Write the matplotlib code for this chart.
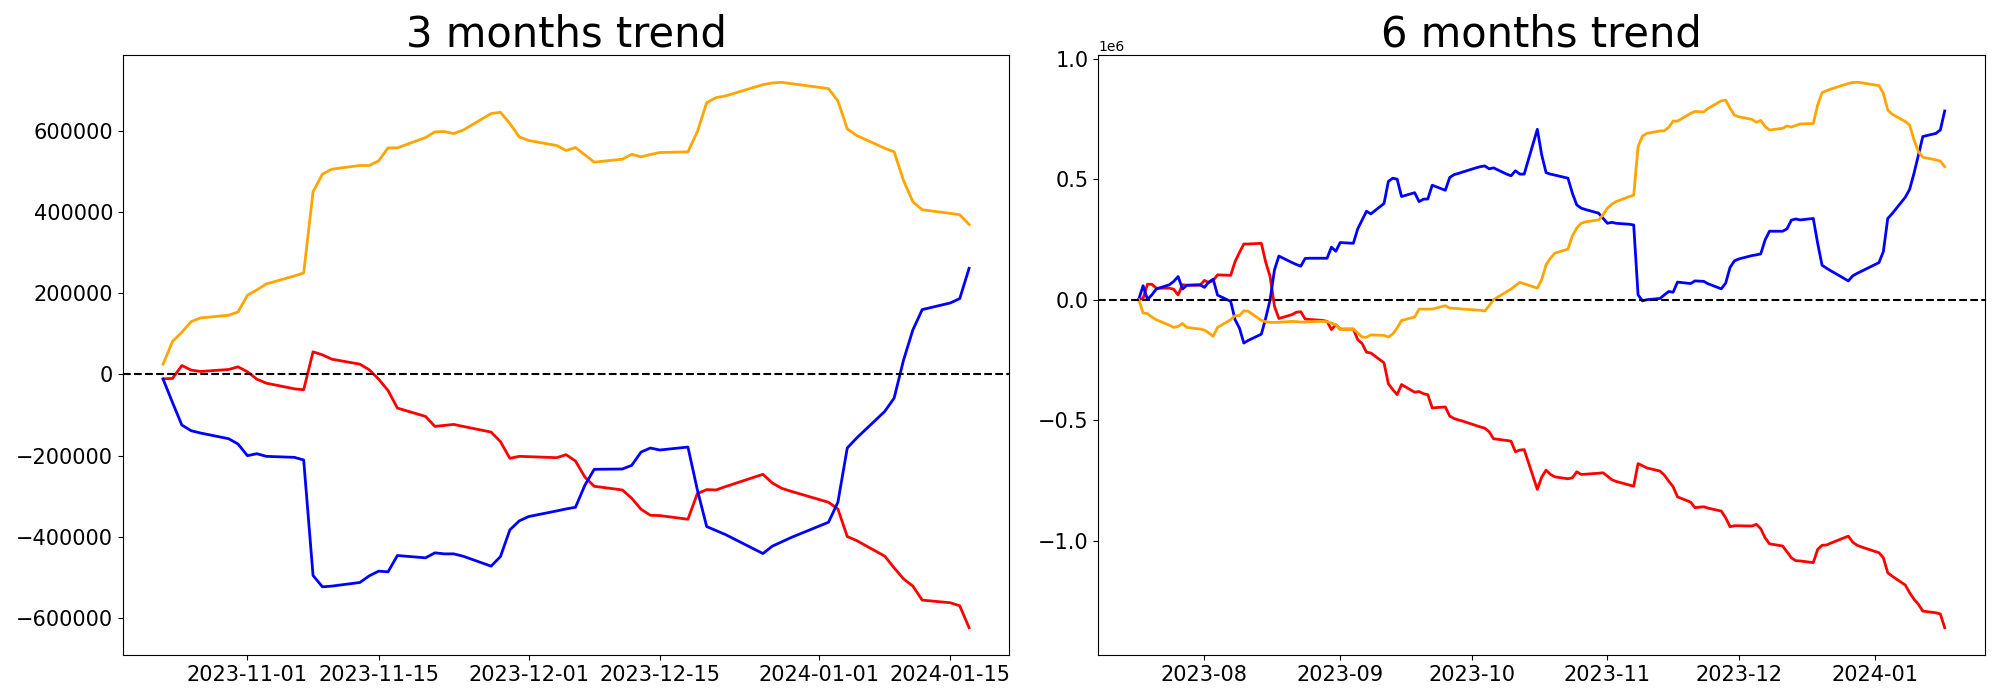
import matplotlib
matplotlib.use('Agg')
import matplotlib.pyplot as plt
import numpy as np
import pandas as pd

# trading days (weekdays, no Christmas / New Year)
holidays = ['2023-12-25', '2024-01-01']
dates_3m = pd.bdate_range('2023-10-23', '2024-01-17').drop(pd.to_datetime(holidays))
dates_6m = pd.bdate_range('2023-07-17', '2024-01-17').drop(pd.to_datetime(holidays))

# 3 months trend
red_3m = [-10700, -9800, 22100, 10700, 7400,
          12300, 18900, 6600, -11500, -21300,
          -35300, -37700, 55800, 48400, 37700,
          25400, 11500, -11500, -39400, -82800,
          -103300, -127900, -125500, -123000, -127900,
          -141900, -165600, -206600, -201700, -202500,
          -205000, -197600, -213200, -252600, -275500,
          -284500, -305000, -332100, -346900, -347700,
          -356700, -293600, -283700, -284500, -276300,
          -246000, -267300, -280400, -287800,
          -314900, -331300, -399300, -409200,
          -447700, -476400, -503500, -521500, -556000,
          -562500, -569900, -624000]
blue_3m = [-11500, -68900, -124600, -138600, -144300,
           -158300, -171400, -200100, -195200, -201700,
           -204200, -210700, -495300, -523200, -521500,
           -512500, -496100, -484600, -486300, -446100,
           -451800, -439500, -442000, -442000, -447700,
           -472300, -448500, -382900, -360800, -350100,
           -336200, -331300, -327200, -273100, -233700,
           -232900, -223900, -191100, -181200, -186100,
           -178800, -283700, -374700, -384600, -394400,
           -441200, -423100, -412500, -401800,
           -364100, -314900, -181200, -156600,
           -91000, -58200, 35000, 109900, 159900,
           176300, 187000, 261600]
orange_3m = [25400, 81200, 104100, 130400, 139400,
             146000, 154200, 195200, 208300, 223000,
             242700, 250100, 450200, 493600, 505900,
             515000, 515000, 526400, 558400, 558400,
             583800, 597800, 598600, 593700, 601900,
             642900, 646200, 618300, 585500, 576500,
             564200, 551900, 559200, 541200, 523200,
             530500, 542800, 536300, 542000, 547000,
             548600, 597800, 669900, 682200, 686300,
             714200, 718300, 720000, 716700,
             704400, 674000, 605200, 588800,
             557500, 548600, 478300, 425600, 405900,
             396900, 393600, 369800]

# 6 months trend (millions)
red_6m = [0.0, 0.006, 0.064, 0.064, 0.048,
          0.048, 0.043, 0.020, 0.062, 0.060,
          0.060, 0.080, 0.071, 0.080, 0.103,
          0.101, 0.158, 0.196, 0.231, 0.231,
          0.234, 0.155, 0.096, -0.028, -0.078,
          -0.062, -0.052, -0.050, -0.080, -0.082,
          -0.086, -0.090, -0.124, -0.104, -0.122,
          -0.122, -0.166, -0.182, -0.218, -0.221,
          -0.262, -0.349, -0.373, -0.394, -0.352,
          -0.384, -0.381, -0.390, -0.394, -0.449,
          -0.445, -0.483, -0.493, -0.499, -0.504,
          -0.522, -0.528, -0.533, -0.548, -0.577,
          -0.584, -0.587, -0.631, -0.624, -0.622,
          -0.787, -0.736, -0.707, -0.725, -0.735,
          -0.743, -0.739, -0.714, -0.725, -0.724,
          -0.720, -0.718, -0.732, -0.747, -0.754,
          -0.769, -0.774, -0.680, -0.689, -0.698,
          -0.711, -0.728, -0.753, -0.776, -0.818,
          -0.840, -0.863, -0.861, -0.859, -0.865,
          -0.877, -0.905, -0.942, -0.938, -0.938,
          -0.939, -0.932, -0.950, -0.988, -1.013,
          -1.022, -1.046, -1.071, -1.083, -1.084,
          -1.091, -1.036, -1.019, -1.018, -1.010,
          -0.981, -1.006, -1.019, -1.026,
          -1.050, -1.071, -1.133, -1.147,
          -1.184, -1.216, -1.243, -1.264, -1.292,
          -1.299, -1.304, -1.361]
blue_6m = [0.001, 0.058, 0.001, 0.020, 0.044,
           0.062, 0.076, 0.096, 0.044, 0.060,
           0.062, 0.051, 0.073, 0.085, 0.019,
           -0.007, -0.083, -0.118, -0.180, -0.169,
           -0.143, -0.076, 0.000, 0.124, 0.181,
           0.154, 0.146, 0.139, 0.171, 0.172,
           0.172, 0.172, 0.218, 0.201, 0.237,
           0.234, 0.294, 0.331, 0.367, 0.356,
           0.399, 0.491, 0.504, 0.500, 0.428,
           0.444, 0.407, 0.417, 0.418, 0.475,
           0.454, 0.507, 0.519, 0.524, 0.530,
           0.547, 0.552, 0.555, 0.543, 0.547,
           0.521, 0.514, 0.535, 0.521, 0.521,
           0.707, 0.601, 0.527, 0.521, 0.517,
           0.504, 0.442, 0.393, 0.380, 0.374,
           0.359, 0.338, 0.317, 0.321, 0.317,
           0.313, 0.310, 0.020, -0.005, 0.000,
           0.005, 0.020, 0.034, 0.031, 0.073,
           0.067, 0.078, 0.077, 0.076, 0.066,
           0.045, 0.069, 0.134, 0.161, 0.169,
           0.183, 0.186, 0.190, 0.248, 0.284,
           0.284, 0.294, 0.330, 0.335, 0.331,
           0.337, 0.234, 0.143, 0.131, 0.120,
           0.078, 0.099, 0.109, 0.118,
           0.154, 0.200, 0.337, 0.357,
           0.425, 0.458, 0.525, 0.600, 0.677,
           0.690, 0.704, 0.783]
orange_6m = [0.0, -0.055, -0.058, -0.072, -0.083,
             -0.106, -0.115, -0.111, -0.099, -0.115,
             -0.122, -0.126, -0.138, -0.152, -0.115,
             -0.083, -0.066, -0.066, -0.046, -0.048,
             -0.086, -0.091, -0.094, -0.094, -0.094,
             -0.090, -0.091, -0.093, -0.093, -0.091,
             -0.090, -0.091, -0.097, -0.104, -0.124,
             -0.122, -0.138, -0.155, -0.156, -0.146,
             -0.148, -0.155, -0.142, -0.117, -0.086,
             -0.072, -0.039, -0.039, -0.039, -0.039,
             -0.025, -0.035, -0.036, -0.037, -0.039,
             -0.043, -0.044, -0.047, -0.025, 0.0,
             0.033, 0.044, 0.058, 0.072, 0.066,
             0.048, 0.083, 0.145, 0.172, 0.193,
             0.210, 0.265, 0.297, 0.317, 0.323,
             0.331, 0.352, 0.380, 0.396, 0.407,
             0.428, 0.433, 0.635, 0.679, 0.690,
             0.700, 0.701, 0.715, 0.741, 0.741,
             0.773, 0.781, 0.780, 0.779, 0.794,
             0.825, 0.828, 0.794, 0.766, 0.759,
             0.748, 0.736, 0.744, 0.718, 0.704,
             0.711, 0.721, 0.716, 0.723, 0.729,
             0.731, 0.808, 0.859, 0.867, 0.874,
             0.897, 0.901, 0.902, 0.900,
             0.888, 0.856, 0.787, 0.770,
             0.739, 0.725, 0.663, 0.614, 0.591,
             0.580, 0.575, 0.552]


def plot_trend(ax: plt.Axes, dates, red, blue, orange, title: str):
    ax.plot(dates, red, color='red', linewidth=2)
    ax.plot(dates, blue, color='blue', linewidth=2)
    ax.plot(dates, orange, color='orange', linewidth=2)
    ax.axhline(0, color='black', linestyle='--', linewidth=1.5)
    ax.set_title(title, fontsize=30)
    ax.tick_params(labelsize=15)


fig, (ax1, ax2) = plt.subplots(nrows=1, ncols=2, figsize=(20, 7), dpi=100)
plot_trend(ax1, dates_3m, red_3m, blue_3m, orange_3m, '3 months trend')
plot_trend(ax2, dates_6m, np.array(red_6m) * 1e6, np.array(blue_6m) * 1e6,
           np.array(orange_6m) * 1e6, '6 months trend')
fig.subplots_adjust(left=0.0614, right=0.9925, bottom=0.0643, top=0.9214, wspace=0.1004)
fig.savefig('out.png')
